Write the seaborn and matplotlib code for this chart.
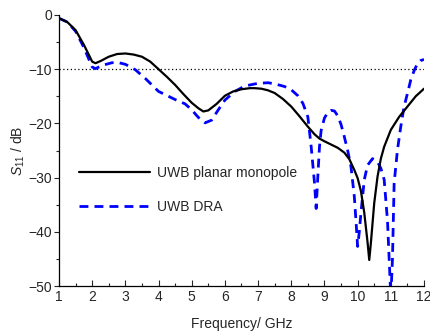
import numpy as np
import pandas as pd
import matplotlib
matplotlib.use("Agg")
import matplotlib.pyplot as plt
from matplotlib.ticker import MultipleLocator
import seaborn as sns

# ---- data ----
freq_mono = [1.0, 1.25, 1.5, 1.75, 2.0, 2.1, 2.25, 2.5, 2.75, 3.0, 3.25, 3.5, 3.75, 4.0,
             4.25, 4.5, 4.75, 5.0, 5.2, 5.35, 5.5, 5.75, 6.0, 6.25, 6.5, 6.75, 6.9, 7.1,
             7.3, 7.5, 7.75, 8.0, 8.25, 8.5, 8.7, 8.85, 9.0, 9.2, 9.4, 9.6, 9.75, 9.9,
             10.0, 10.1, 10.2, 10.3, 10.35, 10.4, 10.5, 10.6, 10.7, 10.8, 11.0, 11.25,
             11.5, 11.75, 12.0]
s11_mono = [-0.6, -1.3, -2.8, -5.5, -8.6, -8.9, -8.5, -7.7, -7.2, -7.1, -7.3, -7.7, -8.6,
            -10.0, -11.4, -12.9, -14.6, -16.2, -17.2, -17.8, -17.6, -16.4, -14.9, -14.1,
            -13.7, -13.5, -13.5, -13.6, -13.9, -14.4, -15.5, -16.9, -18.7, -20.6, -22.0,
            -22.8, -23.3, -23.9, -24.5, -25.4, -26.6, -28.6, -30.1, -32.5, -36.5, -42.0,
            -45.2, -42.0, -34.7, -29.8, -26.5, -24.3, -21.2, -18.8, -16.9, -15.0, -13.6]

freq_dra = [1.0, 1.25, 1.5, 1.75, 2.0, 2.1, 2.3, 2.6, 2.8, 3.0, 3.3, 3.6, 4.0, 4.5, 4.8,
            5.0, 5.2, 5.4, 5.6, 5.8, 6.0, 6.3, 6.6, 7.0, 7.3, 7.5, 7.8, 8.0, 8.2, 8.35,
            8.5, 8.6, 8.7, 8.75, 8.8, 8.85, 8.9, 9.0, 9.1, 9.2, 9.3, 9.4, 9.5, 9.6, 9.7,
            9.8, 9.9, 9.95, 10.0, 10.05, 10.1, 10.2, 10.3, 10.45, 10.6, 10.7, 10.8, 10.9,
            10.95, 11.0, 11.05, 11.1, 11.2, 11.3, 11.4, 11.5, 11.6, 11.7, 11.8, 11.9, 12.0]
s11_dra = [-0.6, -1.3, -3.0, -6.0, -9.6, -9.9, -9.3, -8.8, -8.8, -9.1, -10.1, -11.7, -14.1,
           -15.6, -16.4, -17.5, -18.9, -19.9, -19.4, -17.5, -15.7, -14.1, -13.1, -12.6,
           -12.5, -12.7, -13.2, -13.8, -14.9, -16.3, -18.8, -24.3, -31.0, -35.7, -29.8,
           -24.3, -21.3, -19.0, -18.0, -17.6, -17.7, -18.6, -20.2, -22.5, -25.0, -28.0,
           -33.5, -38.0, -42.7, -40.0, -36.5, -30.4, -27.7, -26.5, -27.1, -28.3, -30.4,
           -38.0, -45.0, -52.0, -45.0, -31.0, -24.9, -20.6, -16.9, -14.5, -12.0, -10.3,
           -9.0, -8.4, -8.2]

label_mono = "UWB planar monopole"
label_dra = "UWB DRA"
x_ticks = list(range(1, 13))
y_ticks = [0, -10, -20, -30, -40, -50]
threshold = -10

df_mono = pd.DataFrame({"f": freq_mono, "s": s11_mono})
df_dra = pd.DataFrame({"f": freq_dra, "s": s11_dra})

sns.set_style("ticks")
plt.rcParams["font.family"] = ["Liberation Sans", "DejaVu Sans"]
plt.rcParams["mathtext.fontset"] = "custom"
plt.rcParams["mathtext.it"] = "Liberation Sans:italic"
plt.rcParams["mathtext.rm"] = "Liberation Sans"

fig = plt.figure(figsize=(4.31, 3.35), dpi=100)
ax = fig.add_axes([59 / 431, 1 - 286 / 335, (424 - 59) / 431, (286 - 15) / 335])

ax.axhline(threshold, color="black", lw=0.9, ls=(0, (1, 2)), zorder=1)
sns.lineplot(data=df_mono, x="f", y="s", ax=ax, color="black", lw=1.6,
             label=label_mono, sort=False, zorder=3)
sns.lineplot(data=df_dra, x="f", y="s", ax=ax, color="#0000ff", lw=2.0,
             label=label_dra, sort=False, zorder=2, dashes=False)
ax.lines[-1].set_dashes((3.2, 2.2))

ax.set_xlim(1, 12)
ax.set_ylim(-50, 0)
ax.set_xticks(x_ticks)
ax.set_yticks(y_ticks)
ax.xaxis.set_minor_locator(MultipleLocator(0.5))
ax.yaxis.set_minor_locator(MultipleLocator(5))
ax.tick_params(axis="x", which="major", direction="in", length=4, width=0.8,
               labelsize=10, pad=3)
ax.tick_params(axis="x", which="minor", direction="in", length=2.5, width=0.8)
ax.tick_params(axis="y", which="major", direction="out", length=3.5, width=0.8,
               labelsize=10, pad=1.5)
ax.tick_params(axis="y", which="minor", direction="out", length=2.5, width=0.8)

sns.despine(ax=ax)
for sp in ("left", "bottom"):
    ax.spines[sp].set_linewidth(0.9)
    ax.spines[sp].set_color("black")

ax.set_xlabel("Frequency/ GHz", fontsize=10, labelpad=9)
ax.set_ylabel("$S_{11}$ / dB", fontsize=10, labelpad=1)

leg = ax.legend(loc="upper left", bbox_to_anchor=(0.02, 0.49), frameon=False,
                fontsize=10, handlelength=5.1, handletextpad=0.5, labelspacing=1.45)

fig.savefig("out.png", dpi=100)
